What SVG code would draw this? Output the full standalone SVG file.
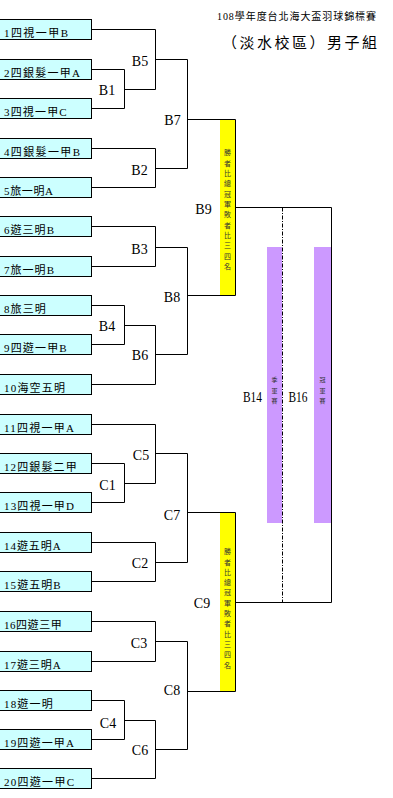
<svg xmlns="http://www.w3.org/2000/svg" width="393" height="798" viewBox="0 0 393 798">
<style>
.box{fill:#ccffff;stroke:#000;stroke-width:1}
.bt{font-family:"Liberation Serif","Noto Sans CJK TC",serif;font-size:11px;fill:#000}
.ml{font-family:"Liberation Serif",serif;font-size:14px;text-anchor:middle;fill:#000}
.c{fill:none;stroke:#000;stroke-width:1}
.dash{fill:none;stroke:#000;stroke-width:1;stroke-dasharray:4 1.5 1 1.5}
.yb{fill:#ffff00}
.pb{fill:#cc99ff}
.vt{font-family:"Noto Sans CJK TC",sans-serif;font-size:7px;text-anchor:middle;fill:#333}
.vp{font-family:"Noto Sans CJK TC",sans-serif;font-size:6px;text-anchor:middle;fill:#333}
.tt{font-family:"Liberation Serif","Noto Sans CJK TC",serif;fill:#000}
</style>
<rect width="393" height="798" fill="#fff"/>
<g id="title">
<text class="tt" x="217" y="20" font-size="10" textLength="159" lengthAdjust="spacing">108學年度台北海大盃羽球錦標賽</text>
<text class="tt" x="222" y="47.5" font-size="15" textLength="155" lengthAdjust="spacing">（淡水校區）男子組</text>
</g>
<g id="teams">
<g id="t1"><rect class="box" x="-0.5" y="19.5" width="92" height="20"/><text class="bt" x="4" y="37" textLength="64" lengthAdjust="spacing">1四視一甲B</text></g>
<g id="t2"><rect class="box" x="-0.5" y="59.5" width="92" height="20"/><text class="bt" x="4" y="77" textLength="76" lengthAdjust="spacing">2四銀髮一甲A</text></g>
<g id="t3"><rect class="box" x="-0.5" y="98.5" width="92" height="20"/><text class="bt" x="4" y="116" textLength="62.7" lengthAdjust="spacing">3四視一甲C</text></g>
<g id="t4"><rect class="box" x="-0.5" y="138.5" width="92" height="20"/><text class="bt" x="4" y="156" textLength="76" lengthAdjust="spacing">4四銀髮一甲B</text></g>
<g id="t5"><rect class="box" x="-0.5" y="177.5" width="92" height="20"/><text class="bt" x="4" y="195" textLength="49" lengthAdjust="spacing">5旅一明A</text></g>
<g id="t6"><rect class="box" x="-0.5" y="216.5" width="92" height="20"/><text class="bt" x="4" y="234" textLength="50" lengthAdjust="spacing">6遊三明B</text></g>
<g id="t7"><rect class="box" x="-0.5" y="256.5" width="92" height="20"/><text class="bt" x="4" y="274" textLength="50" lengthAdjust="spacing">7旅一明B</text></g>
<g id="t8"><rect class="box" x="-0.5" y="295.5" width="92" height="20"/><text class="bt" x="4" y="313" textLength="41.7" lengthAdjust="spacing">8旅三明</text></g>
<g id="t9"><rect class="box" x="-0.5" y="334.5" width="92" height="20"/><text class="bt" x="4" y="352" textLength="62.7" lengthAdjust="spacing">9四遊一甲B</text></g>
<g id="t10"><rect class="box" x="-0.5" y="374.5" width="92" height="20"/><text class="bt" x="4" y="392" textLength="61" lengthAdjust="spacing">10海空五明</text></g>
<g id="t11"><rect class="box" x="-0.5" y="414.5" width="92" height="20"/><text class="bt" x="4" y="432" textLength="70" lengthAdjust="spacing">11四視一甲A</text></g>
<g id="t12"><rect class="box" x="-0.5" y="453.5" width="92" height="20"/><text class="bt" x="4" y="471" textLength="72.7" lengthAdjust="spacing">12四銀髮二甲</text></g>
<g id="t13"><rect class="box" x="-0.5" y="492.5" width="92" height="20"/><text class="bt" x="4" y="510" textLength="70" lengthAdjust="spacing">13四視一甲D</text></g>
<g id="t14"><rect class="box" x="-0.5" y="532.5" width="92" height="20"/><text class="bt" x="4" y="550" textLength="56.7" lengthAdjust="spacing">14遊五明A</text></g>
<g id="t15"><rect class="box" x="-0.5" y="571.5" width="92" height="20"/><text class="bt" x="4" y="589" textLength="56.7" lengthAdjust="spacing">15遊五明B</text></g>
<g id="t16"><rect class="box" x="-0.5" y="611.5" width="92" height="20"/><text class="bt" x="4" y="629" textLength="57.7" lengthAdjust="spacing">16四遊三甲</text></g>
<g id="t17"><rect class="box" x="-0.5" y="651.5" width="92" height="20"/><text class="bt" x="4" y="669" textLength="56.7" lengthAdjust="spacing">17遊三明A</text></g>
<g id="t18"><rect class="box" x="-0.5" y="690.5" width="92" height="20"/><text class="bt" x="4" y="708" textLength="48.7" lengthAdjust="spacing">18遊一明</text></g>
<g id="t19"><rect class="box" x="-0.5" y="729.5" width="92" height="20"/><text class="bt" x="4" y="747" textLength="70" lengthAdjust="spacing">19四遊一甲A</text></g>
<g id="t20"><rect class="box" x="-0.5" y="768.5" width="92" height="20"/><text class="bt" x="4" y="786" textLength="70" lengthAdjust="spacing">20四遊一甲C</text></g>
</g>
<g id="bars">
<g id="semiB"><rect class="yb" x="220" y="120" width="15" height="175"/>
<text class="vt"><tspan x="227.5" y="155.2">勝</tspan><tspan x="227.5" y="165.6">者</tspan><tspan x="227.5" y="175.9">比</tspan><tspan x="227.5" y="186.3">總</tspan><tspan x="227.5" y="196.6">冠</tspan><tspan x="227.5" y="207">軍</tspan><tspan x="227.5" y="217.4">敗</tspan><tspan x="227.5" y="227.7">者</tspan><tspan x="227.5" y="238.1">比</tspan><tspan x="227.5" y="248.4">三</tspan><tspan x="227.5" y="258.8">四</tspan><tspan x="227.5" y="269.2">名</tspan></text></g>
<g id="semiC"><rect class="yb" x="220" y="513" width="15" height="178"/>
<text class="vt"><tspan x="227.5" y="554.2">勝</tspan><tspan x="227.5" y="564.5">者</tspan><tspan x="227.5" y="574.8">比</tspan><tspan x="227.5" y="585.1">總</tspan><tspan x="227.5" y="595.4">冠</tspan><tspan x="227.5" y="605.7">軍</tspan><tspan x="227.5" y="616">敗</tspan><tspan x="227.5" y="626.3">者</tspan><tspan x="227.5" y="636.6">比</tspan><tspan x="227.5" y="646.9">三</tspan><tspan x="227.5" y="657.2">四</tspan><tspan x="227.5" y="667.5">名</tspan></text></g>
<g id="third"><rect class="pb" x="267" y="247" width="15" height="276"/>
<text class="vp"><tspan x="274.5" y="382">季</tspan><tspan x="274.5" y="392.5">軍</tspan><tspan x="274.5" y="403">賽</tspan></text></g>
<g id="final"><rect class="pb" x="314" y="247" width="17" height="276"/>
<text class="vp"><tspan x="322.5" y="382">冠</tspan><tspan x="322.5" y="392.5">軍</tspan><tspan x="322.5" y="403">賽</tspan></text></g>
</g>
<g id="connectors">
<path class="c" d="M91.5 69.5H124.5V108.5H91.5M124.5 89.5H155.5"/>
<path class="c" d="M91.5 29.5H155.5V89.5M155.5 59.5H187.5"/>
<path class="c" d="M91.5 148.5H155.5V187.5H91.5M155.5 168.5H187.5"/>
<path class="c" d="M187.5 59.5V168.5M187.5 119.5H235.5"/>
<path class="c" d="M91.5 226.5H155.5V266.5H91.5M155.5 247.5H187.5"/>
<path class="c" d="M91.5 305.5H124.5V344.5H91.5M124.5 325.5H155.5"/>
<path class="c" d="M91.5 384.5H155.5V325.5M155.5 354.5H187.5"/>
<path class="c" d="M187.5 247.5V354.5M187.5 295.5H235.5"/>
<path class="c" d="M235.5 119.5V295.5M235.5 207.5H331.5V602.5H235.5"/>
<path class="dash" d="M282.5 207.5V602.5"/>
<path class="c" d="M91.5 424.5H155.5V483.5"/>
<path class="c" d="M91.5 463.5H124.5V502.5H91.5M124.5 483.5H155.5M155.5 453.5H187.5"/>
<path class="c" d="M91.5 542.5H155.5V581.5H91.5M155.5 562.5H187.5"/>
<path class="c" d="M187.5 453.5V562.5M187.5 512.5H235.5"/>
<path class="c" d="M91.5 621.5H155.5V661.5H91.5M155.5 641.5H187.5"/>
<path class="c" d="M91.5 700.5H124.5V739.5H91.5M124.5 720.5H155.5"/>
<path class="c" d="M91.5 778.5H155.5V720.5M155.5 749.5H187.5"/>
<path class="c" d="M187.5 641.5V749.5M187.5 691.5H235.5"/>
<path class="c" d="M235.5 512.5V691.5"/>
</g>
<g id="matches">
<g id="B1"><text class="ml" x="107" y="94.5">B1</text></g>
<g id="B5"><text class="ml" x="140" y="66">B5</text></g>
<g id="B2"><text class="ml" x="139.5" y="175">B2</text></g>
<g id="B7"><text class="ml" x="172.5" y="125">B7</text></g>
<g id="B3"><text class="ml" x="139.5" y="254">B3</text></g>
<g id="B4"><text class="ml" x="107" y="331">B4</text></g>
<g id="B6"><text class="ml" x="140" y="360">B6</text></g>
<g id="B8"><text class="ml" x="172" y="301.5">B8</text></g>
<g id="B9"><text class="ml" x="203.5" y="213.5">B9</text></g>
<g id="B14"><text class="ml" x="252.5" y="402" textLength="19" lengthAdjust="spacingAndGlyphs">B14</text></g>
<g id="B16"><text class="ml" x="298" y="402" textLength="19" lengthAdjust="spacingAndGlyphs">B16</text></g>
<g id="C5"><text class="ml" x="141" y="460">C5</text></g>
<g id="C1"><text class="ml" x="107.5" y="490">C1</text></g>
<g id="C7"><text class="ml" x="172" y="520">C7</text></g>
<g id="C2"><text class="ml" x="140" y="568">C2</text></g>
<g id="C3"><text class="ml" x="139" y="647.5">C3</text></g>
<g id="C4"><text class="ml" x="108" y="727.5">C4</text></g>
<g id="C6"><text class="ml" x="140" y="755">C6</text></g>
<g id="C8"><text class="ml" x="172" y="695">C8</text></g>
<g id="C9"><text class="ml" x="202" y="608">C9</text></g>
</g>
</svg>
